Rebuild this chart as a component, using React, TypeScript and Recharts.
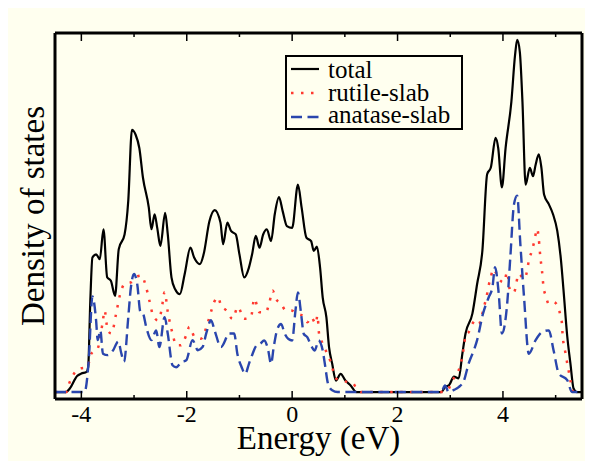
import { LineChart, Line, XAxis, YAxis } from 'recharts';

type Pt = [number, number];

// Energy (eV) / density of states pairs
const totalDos: Pt[] = [
    [-4.5, 0], [-4.29, 0], [-4.22, 0.1], [-4.08, 0.46], [-4.0, 0.53], [-3.9, 0.58], [-3.87, 0.72],
    [-3.83, 2.62], [-3.79, 3.86], [-3.72, 3.95], [-3.65, 3.81], [-3.58, 4.67], [-3.51, 3.29],
    [-3.44, 3.19], [-3.36, 2.76], [-3.29, 4.1], [-3.18, 4.52], [-3.11, 5.48], [-3.04, 7.52],
    [-2.97, 7.38], [-2.9, 7.0], [-2.83, 6.14], [-2.72, 5.29], [-2.67, 4.67], [-2.61, 5.1],
    [-2.56, 4.71], [-2.5, 4.19], [-2.41, 5.14], [-2.36, 4.52], [-2.29, 3.29], [-2.22, 2.95],
    [-2.13, 2.81], [-2.04, 3.38], [-1.93, 4.14], [-1.86, 3.86], [-1.75, 3.67], [-1.68, 3.95],
    [-1.57, 4.9], [-1.47, 5.22], [-1.36, 4.86], [-1.31, 4.24], [-1.23, 4.86], [-1.16, 4.62],
    [-1.07, 4.52], [-1.0, 3.95], [-0.91, 3.29], [-0.82, 3.57], [-0.76, 3.95], [-0.69, 4.48],
    [-0.62, 4.14], [-0.55, 4.52], [-0.48, 4.67], [-0.4, 4.33], [-0.33, 5.1], [-0.25, 5.59],
    [-0.18, 5.19], [-0.1, 4.76], [0.0, 4.71], [0.11, 5.95], [0.18, 5.29], [0.27, 4.43],
    [0.36, 4.33], [0.41, 4.05], [0.47, 4.17], [0.53, 3.57], [0.58, 2.71], [0.65, 2.14],
    [0.7, 1.29], [0.76, 0.81], [0.83, 0.33], [0.92, 0.52], [1.01, 0.33], [1.11, 0.19],
    [1.22, 0], [2.83, 0], [2.9, 0.14], [2.98, 0.2], [3.07, 0.44], [3.16, 0.39], [3.23, 1.1],
    [3.29, 1.68], [3.42, 2.25], [3.51, 3.1], [3.61, 4.06], [3.7, 6.25], [3.77, 6.44],
    [3.86, 7.29], [3.91, 7.0], [3.98, 5.87], [4.05, 7.0], [4.16, 8.33], [4.23, 9.67],
    [4.27, 10.1], [4.32, 9.76], [4.37, 8.33], [4.43, 5.95], [4.51, 6.43], [4.57, 6.19],
    [4.62, 6.52], [4.68, 6.82], [4.73, 6.43], [4.78, 5.67], [4.87, 5.39], [4.95, 5.1],
    [5.03, 4.63], [5.1, 3.8], [5.15, 2.91], [5.22, 1.6], [5.28, 0.82], [5.34, 0.1],
    [5.4, 0], [5.5, 0],
];

const rutileDos: Pt[] = [
    [-4.5, 0], [-4.29, 0], [-4.22, 0.29], [-4.04, 0.67], [-3.89, 0.71], [-3.81, 1.1],
    [-3.69, 1.25], [-3.59, 2.06], [-3.56, 2.34], [-3.5, 1.77], [-3.43, 1.68], [-3.34, 2.25],
    [-3.27, 2.77], [-3.18, 3.1], [-3.05, 3.15], [-2.96, 3.3], [-2.86, 3.34], [-2.77, 3.0],
    [-2.71, 2.63], [-2.64, 2.2], [-2.55, 2.06], [-2.48, 2.34], [-2.42, 2.87], [-2.36, 2.3],
    [-2.27, 1.68], [-2.2, 1.34], [-2.11, 1.34], [-2.01, 1.63], [-1.95, 1.87], [-1.85, 1.58],
    [-1.73, 1.53], [-1.6, 2.0], [-1.54, 2.3], [-1.48, 2.58], [-1.41, 2.72], [-1.35, 2.49],
    [-1.25, 2.34], [-1.13, 2.1], [-1.03, 2.44], [-0.91, 2.1], [-0.78, 2.15], [-0.72, 2.68],
    [-0.62, 2.29], [-0.5, 2.29], [-0.43, 2.58], [-0.37, 2.91], [-0.31, 2.68], [-0.21, 2.53],
    [-0.12, 2.34], [-0.02, 2.34], [0.1, 2.25], [0.23, 2.15], [0.29, 2.0], [0.36, 2.15],
    [0.45, 1.96], [0.48, 2.2], [0.51, 1.68], [0.58, 1.39], [0.65, 1.15], [0.73, 0.87],
    [0.83, 0.39], [0.92, 0.34], [1.05, 0.29], [1.14, 0.27], [1.24, 0.06], [1.3, 0],
    [2.85, 0], [2.95, 0.05], [3.03, 0.3], [3.2, 0.82], [3.26, 1.3], [3.29, 1.63], [3.35, 1.72],
    [3.42, 1.96], [3.48, 2.06], [3.54, 1.96], [3.64, 2.44], [3.7, 2.82], [3.73, 3.06],
    [3.77, 3.29], [3.81, 3.53], [3.86, 3.44], [3.92, 3.25], [4.02, 3.15], [4.08, 3.44],
    [4.14, 2.87], [4.21, 2.87], [4.3, 3.39], [4.4, 3.25], [4.46, 3.49], [4.49, 3.77],
    [4.54, 4.01], [4.59, 4.29], [4.65, 4.68], [4.68, 4.39], [4.71, 3.87], [4.74, 3.49],
    [4.77, 3.01], [4.81, 2.77], [4.87, 2.53], [4.96, 2.58], [5.03, 2.49], [5.09, 2.2],
    [5.12, 1.96], [5.13, 1.68], [5.15, 1.39], [5.19, 1.1], [5.22, 0.82], [5.25, 0.58],
    [5.28, 0.34], [5.31, 0.06], [5.36, 0], [5.5, 0],
];

const anataseDos: Pt[] = [
    [-4.5, 0], [-3.94, 0], [-3.86, 0.9], [-3.79, 2.74], [-3.72, 2.05], [-3.69, 1.49],
    [-3.64, 1.77], [-3.59, 1.1], [-3.5, 1.06], [-3.4, 1.19], [-3.3, 1.45], [-3.24, 1.1],
    [-3.19, 0.87], [-3.11, 2.14], [-3.06, 3.0], [-3.0, 3.39], [-2.94, 3.1], [-2.88, 2.3],
    [-2.83, 2.25], [-2.77, 1.87], [-2.67, 1.49], [-2.58, 1.77], [-2.52, 1.29], [-2.42, 2.15],
    [-2.36, 1.67], [-2.27, 0.77], [-2.2, 0.71], [-2.1, 0.86], [-2.01, 0.91], [-1.89, 1.49],
    [-1.79, 1.2], [-1.7, 1.29], [-1.63, 1.68], [-1.54, 2.06], [-1.47, 1.76], [-1.35, 1.29],
    [-1.19, 1.68], [-1.1, 1.68], [-1.04, 1.1], [-0.96, 0.72], [-0.89, 0.52], [-0.82, 0.81],
    [-0.75, 1.1], [-0.68, 1.33], [-0.61, 1.38], [-0.53, 1.48], [-0.46, 1.24], [-0.4, 0.81],
    [-0.35, 1.29], [-0.28, 1.81], [-0.21, 1.95], [-0.14, 1.67], [-0.07, 1.52], [0.0, 1.48],
    [0.06, 2.29], [0.11, 2.86], [0.17, 2.24], [0.22, 1.67], [0.29, 1.57], [0.36, 1.33],
    [0.43, 1.19], [0.5, 1.48], [0.58, 1.19], [0.63, 0.71], [0.68, 0.24], [0.76, 0.05],
    [0.86, 0], [2.83, 0], [2.9, 0.19], [2.97, 0], [3.07, 0.06], [3.16, 0.14], [3.26, 0.33],
    [3.35, 0.82], [3.46, 1.25], [3.51, 1.49], [3.62, 2.24], [3.73, 2.72], [3.8, 3.0],
    [3.85, 3.58], [3.92, 2.82], [3.98, 1.68], [4.08, 2.53], [4.14, 3.87], [4.21, 5.39],
    [4.27, 5.63], [4.33, 4.25], [4.4, 2.72], [4.49, 1.1], [4.62, 1.49], [4.74, 1.72],
    [4.87, 1.77], [4.96, 1.2], [5.06, 0.53], [5.22, 0.34], [5.31, 0], [5.5, 0],
];

const energyTicks = [-4, -3, -2, -1, 0, 1, 2, 3, 4, 5];
const energyDomain: [number, number] = [-4.5, 5.5];
const dosDomain: [number, number] = [-0.2, 10.3];

const legendItems = [
    { name: 'total', color: '#000000', dash: undefined, width: 2.2 },
    { name: 'rutile-slab', color: '#ff3a30', dash: '2.5 7.5', width: 2.5 },
    { name: 'anatase-slab', color: '#2a46ad', dash: '11 5.5', width: 2.4 },
];

const FONT = '"Liberation Serif", "Times New Roman", serif';
const BG = '#ffffef';

const toRows = (pts: Pt[]) => pts.map(([e, v]) => ({ e, v }));

function BottomTick(props: any) {
    const { x, y, payload } = props;
    const major = payload.value % 2 === 0;
    return (
        <g>
            <line x1={x} y1={y} x2={x} y2={y - (major ? 8 : 4)} stroke="#000" strokeWidth={1.5} />
            {major && (
                <text x={x} y={y + 23} textAnchor="middle" fontSize={24} fontFamily={FONT} fill="#000">
                    {payload.value}
                </text>
            )}
        </g>
    );
}

function TopTick(props: any) {
    const { x, y, payload } = props;
    const major = payload.value % 2 === 0;
    return <line x1={x} y1={y} x2={x} y2={y + (major ? 8 : 4)} stroke="#000" strokeWidth={1.5} />;
}

function Legend() {
    return (
        <svg width={178} height={75} style={{ position: 'absolute', left: 277, top: 47 }}>
            <rect x={1} y={1} width={176} height={73} fill={BG} stroke="#000" strokeWidth={2} />
            {legendItems.map((item, i) => (
                <g key={item.name}>
                    <line
                        x1={6}
                        x2={34}
                        y1={14 + i * 24}
                        y2={14 + i * 24}
                        stroke={item.color}
                        strokeWidth={item.width}
                        strokeDasharray={item.dash}
                    />
                    <text x={43} y={23 + i * 22.7} fontSize={25} fontFamily={FONT} fill="#000">
                        {item.name}
                    </text>
                </g>
            ))}
        </svg>
    );
}

export default function App() {
    return (
        <div style={{ position: 'relative', width: 585, height: 453, background: BG }}>
            <LineChart width={585} height={453} margin={{ top: 24, right: 10, bottom: 0, left: 0 }}>
                <XAxis
                    dataKey="e"
                    type="number"
                    domain={energyDomain}
                    ticks={energyTicks}
                    interval={0}
                    height={62}
                    tickSize={0}
                    tickMargin={0}
                    tickLine={false}
                    tick={<BottomTick />}
                    axisLine={{ stroke: '#000', strokeWidth: 3 }}
                    allowDataOverflow
                    label={{
                        content: (p: any) => {
                            const vb = p.viewBox;
                            return (
                                <text
                                    x={vb.x + vb.width / 2}
                                    y={vb.y + 50}
                                    textAnchor="middle"
                                    fontSize={33}
                                    fontFamily={FONT}
                                    fill="#000"
                                >
                                    Energy (eV)
                                </text>
                            );
                        },
                    }}
                />
                <XAxis
                    xAxisId="top"
                    dataKey="e"
                    orientation="top"
                    type="number"
                    domain={energyDomain}
                    ticks={energyTicks}
                    interval={0}
                    height={1}
                    tickSize={0}
                    tickMargin={0}
                    tickLine={false}
                    tick={<TopTick />}
                    axisLine={{ stroke: '#000', strokeWidth: 3 }}
                    allowDataOverflow
                />
                <YAxis
                    type="number"
                    domain={dosDomain}
                    width={47}
                    tick={false}
                    tickLine={false}
                    axisLine={{ stroke: '#000', strokeWidth: 3 }}
                    allowDataOverflow
                    label={{
                        content: (p: any) => {
                            const vb = p.viewBox;
                            const cx = 35.5;
                            const cy = vb.y + vb.height / 2;
                            return (
                                <text
                                    x={cx}
                                    y={cy}
                                    transform={`rotate(-90 ${cx} ${cy})`}
                                    textAnchor="middle"
                                    fontSize={33}
                                    fontFamily={FONT}
                                    fill="#000"
                                >
                                    Density of states
                                </text>
                            );
                        },
                    }}
                />
                <YAxis
                    yAxisId="right"
                    orientation="right"
                    type="number"
                    domain={dosDomain}
                    width={1}
                    tick={false}
                    tickLine={false}
                    axisLine={{ stroke: '#000', strokeWidth: 3 }}
                    allowDataOverflow
                />
                <Line
                    data={toRows(totalDos)}
                    dataKey="v"
                    type="monotone"
                    stroke="#000"
                    strokeWidth={2.2}
                    dot={false}
                    activeDot={false}
                    isAnimationActive={false}
                />
                <Line
                    data={toRows(rutileDos)}
                    xAxisId="top"
                    yAxisId="right"
                    dataKey="v"
                    type="monotone"
                    stroke="#ff3a30"
                    strokeWidth={2.5}
                    strokeDasharray="2.5 7.5"
                    dot={false}
                    activeDot={false}
                    isAnimationActive={false}
                />
                <Line
                    data={toRows(anataseDos)}
                    dataKey="v"
                    type="monotone"
                    stroke="#2a46ad"
                    strokeWidth={2.4}
                    strokeDasharray="11 5.5"
                    dot={false}
                    activeDot={false}
                    isAnimationActive={false}
                />
            </LineChart>
            <Legend />
        </div>
    );
}
